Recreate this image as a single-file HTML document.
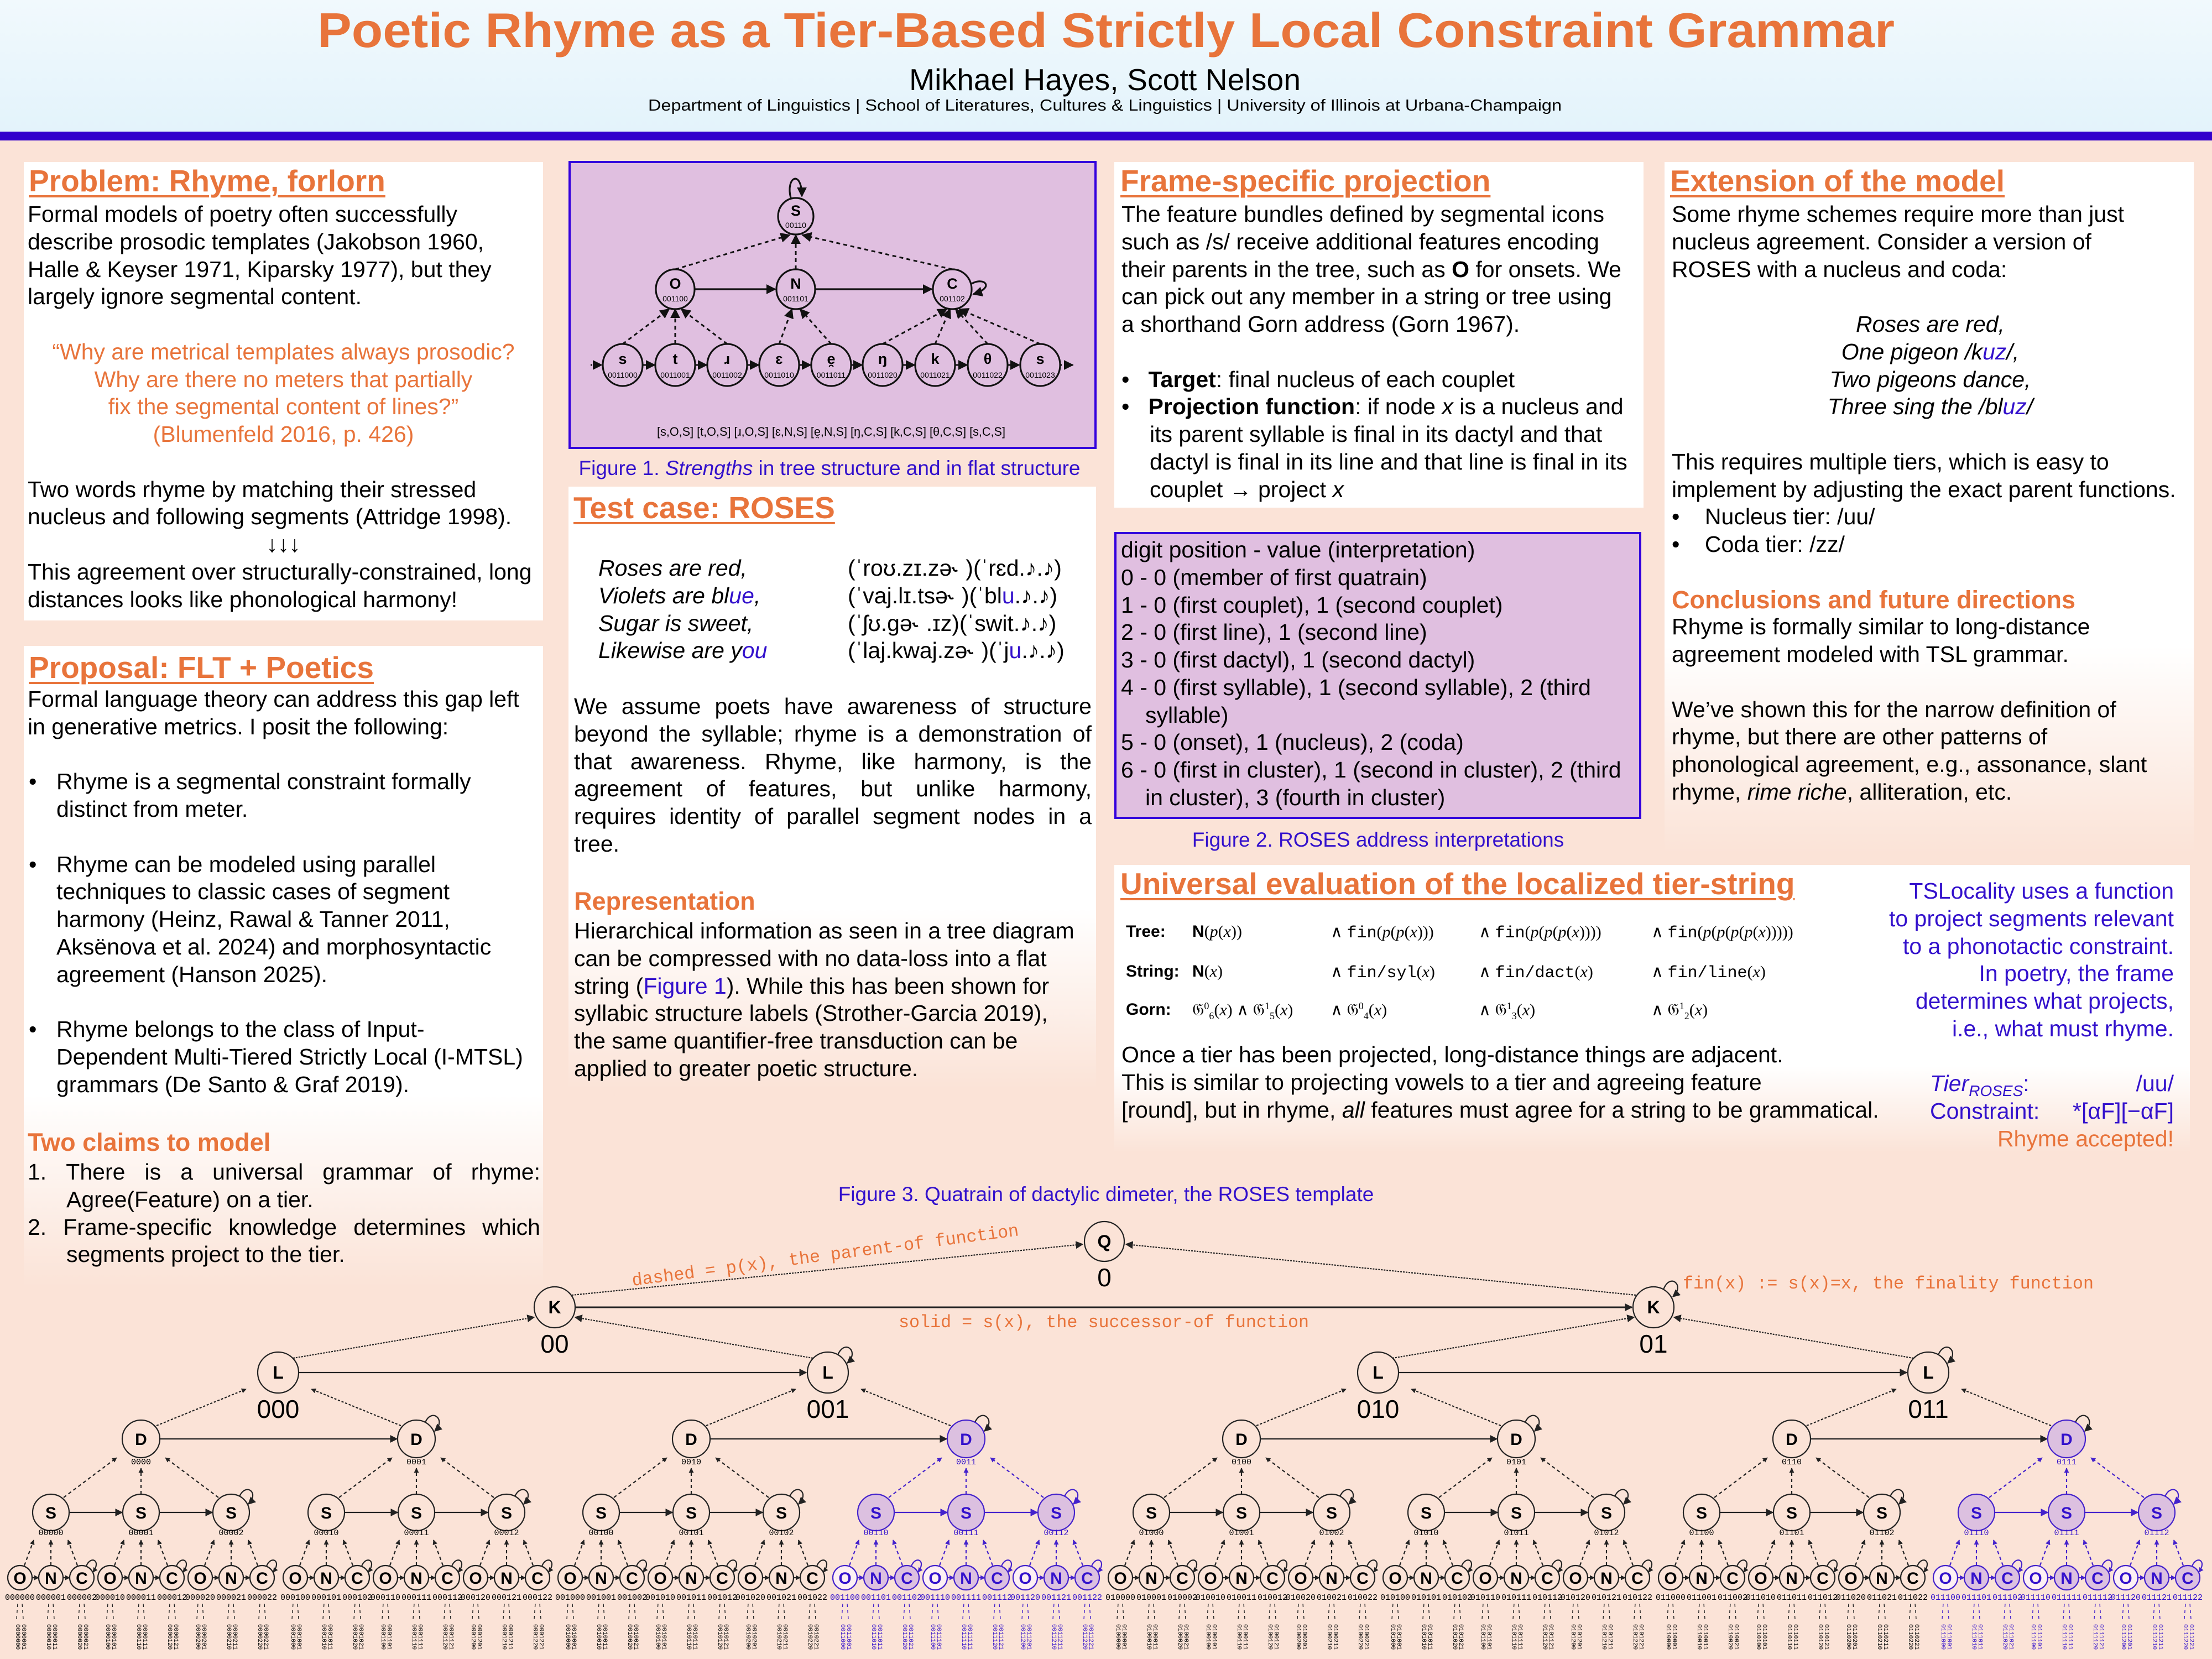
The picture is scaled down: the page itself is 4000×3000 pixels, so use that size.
<!DOCTYPE html>
<html><head><meta charset="utf-8">
<style>
*{margin:0;padding:0;box-sizing:border-box}
html,body{width:4000px;height:3000px;overflow:hidden}
body{position:relative;background:#fbe3d7;font-family:"Liberation Sans",sans-serif;color:#000}
.hdr{position:absolute;left:0;top:0;width:4000px;height:238px;background:linear-gradient(#f1f9fd,#e3f3fb)}
.bar{position:absolute;left:0;top:238px;width:4000px;height:16px;background:#3300cc}
.box{position:absolute;background:#fff}
.fade{background:linear-gradient(#fff 0%,#fff 70%,rgba(255,255,255,0) 100%)}
.pur{position:absolute;background:#e0bfe0;border:4px solid #3300dd}
.b{position:absolute;font-size:41px;line-height:49.75px;white-space:nowrap}
.b>div{height:49.75px;position:relative}
.j{text-align:justify;text-align-last:justify}
.pb{padding-left:52px}
.pb::before{content:"•";position:absolute;left:2px}
.h2{position:absolute;font-weight:bold;font-size:55px;color:#e8743b;text-decoration:underline;text-decoration-thickness:4px;text-underline-offset:7px;white-space:nowrap;line-height:60px}
.h3{font-weight:bold;font-size:45px;color:#e8743b}
.or{color:#e8743b}.bl{color:#3311cc}
.cap{position:absolute;font-size:37px;color:#3311cc;white-space:nowrap;transform:translateX(-50%)}
.f{position:absolute;font-size:30px;white-space:nowrap;font-family:"Liberation Serif",serif}
.f b{font-family:"Liberation Sans",sans-serif}
.f .m{font-family:"Liberation Mono",monospace}
.f i{font-style:italic}
svg text{font-family:"Liberation Sans",sans-serif}
</style></head><body>
<div class="hdr"></div><div class="bar"></div>

<!-- Column 1 -->
<div class="box" style="left:43px;top:293px;width:939px;height:829px"></div>
<div class="h2" style="left:52px;top:297px">Problem: Rhyme, forlorn</div>
<div class="b" style="left:50px;top:363px;width:925px">
<div>Formal models of poetry often successfully</div>
<div>describe prosodic templates (Jakobson 1960,</div>
<div>Halle &amp; Keyser 1971, Kiparsky 1977), but they</div>
<div>largely ignore segmental content.</div>
<div></div>
<div class="or" style="text-align:center">“Why are metrical templates always prosodic?</div>
<div class="or" style="text-align:center">Why are there no meters that partially</div>
<div class="or" style="text-align:center">fix the segmental content of lines?”</div>
<div class="or" style="text-align:center">(Blumenfeld 2016, p. 426)</div>
<div></div>
<div>Two words rhyme by matching their stressed</div>
<div>nucleus and following segments (Attridge 1998).</div>
<div style="text-align:center">↓↓↓</div>
<div>This agreement over structurally-constrained, long</div>
<div>distances looks like phonological harmony!</div>
</div>

<div class="box fade" style="left:43px;top:1168px;width:939px;height:1160px"></div>
<div class="h2" style="left:52px;top:1177px">Proposal: FLT + Poetics</div>
<div class="b" style="left:50px;top:1240px;width:925px">
<div>Formal language theory can address this gap left</div>
<div>in generative metrics. I posit the following:</div>
<div></div>
<div class="pb">Rhyme is a segmental constraint formally</div>
<div style="padding-left:52px">distinct from meter.</div>
<div></div>
<div class="pb">Rhyme can be modeled using parallel</div>
<div style="padding-left:52px">techniques to classic cases of segment</div>
<div style="padding-left:52px">harmony (Heinz, Rawal &amp; Tanner 2011,</div>
<div style="padding-left:52px">Aksënova et al. 2024) and morphosyntactic</div>
<div style="padding-left:52px">agreement (Hanson 2025).</div>
<div></div>
<div class="pb">Rhyme belongs to the class of Input-</div>
<div style="padding-left:52px">Dependent Multi-Tiered Strictly Local (I-MTSL)</div>
<div style="padding-left:52px">grammars (De Santo &amp; Graf 2019).</div>
</div>
<div class="b h3" style="left:50px;top:2040px;line-height:52px">Two claims to model</div>
<div class="b" style="left:50px;top:2095px;width:927px">
<div class="j">1.&nbsp;There is a universal grammar of rhyme:</div>
<div style="padding-left:70px">Agree(Feature) on a tier.</div>
<div class="j">2.&nbsp;Frame-specific knowledge determines which</div>
<div style="padding-left:70px">segments project to the tier.</div>
</div>

<!-- Column 2 -->
<div class="pur" style="left:1028px;top:291px;width:955px;height:521px"></div>
<div class="cap" style="left:1500px;top:826px">Figure 1. <i>Strengths</i> in tree structure and in flat structure</div>

<div class="box fade" style="left:1028px;top:880px;width:954px;height:1090px"></div>
<div class="h2" style="left:1037px;top:888px">Test case: ROSES</div>
<div class="b" style="left:1082px;top:1003px;font-style:italic">
<div>Roses are red,</div>
<div>Violets are bl<span class="bl">ue</span>,</div>
<div>Sugar is sweet,</div>
<div>Likewise are y<span class="bl">ou</span></div>
</div>
<div class="b" style="left:1533px;top:1003px">
<div>(ˈroʊ.zɪ.zə˞ )(ˈrɛd.♪.♪)</div>
<div>(ˈvaj.lɪ.tsə˞ )(ˈbl<span class="bl">u</span>.♪.♪)</div>
<div>(ˈʃʊ.gə˞ .ɪz)(ˈswit.♪.♪)</div>
<div>(ˈlaj.kwaj.zə˞ )(ˈj<span class="bl">u</span>.♪.♪)</div>
</div>
<div class="b" style="left:1038px;top:1253px;width:936px">
<div class="j">We assume poets have awareness of structure</div>
<div class="j">beyond the syllable; rhyme is a demonstration of</div>
<div class="j">that awareness. Rhyme, like harmony, is the</div>
<div class="j">agreement of features, but unlike harmony,</div>
<div class="j">requires identity of parallel segment nodes in a</div>
<div>tree.</div>
</div>
<div class="b h3" style="left:1038px;top:1604px;line-height:52px">Representation</div>
<div class="b" style="left:1038px;top:1659px">
<div>Hierarchical information as seen in a tree diagram</div>
<div>can be compressed with no data-loss into a flat</div>
<div>string (<span class="bl">Figure 1</span>). While this has been shown for</div>
<div>syllabic structure labels (Strother-Garcia 2019),</div>
<div>the same quantifier-free transduction can be</div>
<div>applied to greater poetic structure.</div>
</div>

<!-- Column 3 -->
<div class="box" style="left:2015px;top:293px;width:957px;height:625px"></div>
<div class="h2" style="left:2026px;top:297px">Frame-specific projection</div>
<div class="b" style="left:2028px;top:363px">
<div>The feature bundles defined by segmental icons</div>
<div>such as /s/ receive additional features encoding</div>
<div>their parents in the tree, such as <b>O</b> for onsets. We</div>
<div>can pick out any member in a string or tree using</div>
<div>a shorthand Gorn address (Gorn 1967).</div>
<div></div>
<div>•&nbsp;&nbsp;&nbsp;<b>Target</b>: final nucleus of each couplet</div>
<div>•&nbsp;&nbsp;&nbsp;<b>Projection function</b>: if node <i>x</i> is a nucleus and</div>
<div style="padding-left:51px">its parent syllable is final in its dactyl and that</div>
<div style="padding-left:51px">dactyl is final in its line and that line is final in its</div>
<div style="padding-left:51px">couplet → project <i>x</i></div>
</div>

<div class="pur" style="left:2015px;top:962px;width:953px;height:519px"></div>
<div class="b" style="left:2027px;top:970px">
<div>digit position - value (interpretation)</div>
<div>0 - 0 (member of first quatrain)</div>
<div>1 - 0 (first couplet), 1 (second couplet)</div>
<div>2 - 0 (first line), 1 (second line)</div>
<div>3 - 0 (first dactyl), 1 (second dactyl)</div>
<div>4 - 0 (first syllable), 1 (second syllable), 2 (third</div>
<div style="padding-left:44px">syllable)</div>
<div>5 - 0 (onset), 1 (nucleus), 2 (coda)</div>
<div>6 - 0 (first in cluster), 1 (second in cluster), 2 (third</div>
<div style="padding-left:44px">in cluster), 3 (fourth in cluster)</div>
</div>
<div class="cap" style="left:2492px;top:1498px">Figure 2. ROSES address interpretations</div>

<div class="box fade" style="left:2015px;top:1564px;width:1945px;height:520px"></div>
<div class="h2" style="left:2026px;top:1568px">Universal evaluation of the localized tier-string</div>
<div class="f" style="left:2036px;top:1668px"><b>Tree:</b></div>
<div class="f" style="left:2156px;top:1668px"><b>N</b>(<i>p</i>(<i>x</i>))</div>
<div class="f" style="left:2406px;top:1668px">∧ <span class="m">fin</span>(<i>p</i>(<i>p</i>(<i>x</i>)))</div>
<div class="f" style="left:2674px;top:1668px">∧ <span class="m">fin</span>(<i>p</i>(<i>p</i>(<i>p</i>(<i>x</i>))))</div>
<div class="f" style="left:2986px;top:1668px">∧ <span class="m">fin</span>(<i>p</i>(<i>p</i>(<i>p</i>(<i>p</i>(<i>x</i>)))))</div>
<div class="f" style="left:2036px;top:1740px"><b>String:</b></div>
<div class="f" style="left:2156px;top:1740px"><b>N</b>(<i>x</i>)</div>
<div class="f" style="left:2406px;top:1740px">∧ <span class="m">fin/syl</span>(<i>x</i>)</div>
<div class="f" style="left:2674px;top:1740px">∧ <span class="m">fin/dact</span>(<i>x</i>)</div>
<div class="f" style="left:2986px;top:1740px">∧ <span class="m">fin/line</span>(<i>x</i>)</div>
<div class="f" style="left:2036px;top:1809px"><b>Gorn:</b></div>
<div class="f" style="left:2156px;top:1809px">𝔊<sup style="font-size:18px">0</sup><sub style="font-size:18px">6</sub>(<i>x</i>) ∧ 𝔊<sup style="font-size:18px">1</sup><sub style="font-size:18px">5</sub>(<i>x</i>)</div>
<div class="f" style="left:2406px;top:1809px">∧ 𝔊<sup style="font-size:18px">0</sup><sub style="font-size:18px">4</sub>(<i>x</i>)</div>
<div class="f" style="left:2674px;top:1809px">∧ 𝔊<sup style="font-size:18px">1</sup><sub style="font-size:18px">3</sub>(<i>x</i>)</div>
<div class="f" style="left:2986px;top:1809px">∧ 𝔊<sup style="font-size:18px">1</sup><sub style="font-size:18px">2</sub>(<i>x</i>)</div>
<div class="b" style="left:2028px;top:1883px">
<div>Once a tier has been projected, long-distance things are adjacent.</div>
<div>This is similar to projecting vowels to a tier and agreeing feature</div>
<div>[round], but in rhyme, <i>all</i> features must agree for a string to be grammatical.</div>
</div>
<div class="b bl" style="right:69px;top:1587px;text-align:right">
<div>TSLocality uses a function</div>
<div>to project segments relevant</div>
<div>to a phonotactic constraint.</div>
<div>In poetry, the frame</div>
<div>determines what projects,</div>
<div>i.e., what must rhyme.</div>
<div></div>
<div style="width:441px;margin-left:auto;display:flex;justify-content:space-between"><span><i>Tier</i><sub style="font-size:28px"><i>ROSES</i></sub>:</span><span>/uu/</span></div>
<div style="width:441px;margin-left:auto;display:flex;justify-content:space-between"><span>Constraint:</span><span>*[αF][−αF]</span></div>
<div class="or">Rhyme accepted!</div>
</div>

<!-- Column 4 -->
<div class="box fade" style="left:3010px;top:293px;width:957px;height:1250px"></div>
<div class="h2" style="left:3020px;top:297px">Extension of the model</div>
<div class="b" style="left:3023px;top:363px;width:935px">
<div>Some rhyme schemes require more than just</div>
<div>nucleus agreement. Consider a version of</div>
<div>ROSES with a nucleus and coda:</div>
<div></div>
<div style="text-align:center;font-style:italic">Roses are red,</div>
<div style="text-align:center;font-style:italic">One pigeon /k<span class="bl">uz</span>/,</div>
<div style="text-align:center;font-style:italic">Two pigeons dance,</div>
<div style="text-align:center;font-style:italic">Three sing the /bl<span class="bl">uz</span>/</div>
<div></div>
<div>This requires multiple tiers, which is easy to</div>
<div>implement by adjusting the exact parent functions.</div>
<div>•&nbsp;&nbsp;&nbsp;&nbsp;Nucleus tier: /uu/</div>
<div>•&nbsp;&nbsp;&nbsp;&nbsp;Coda tier: /zz/</div>
<div></div>
<div class="h3">Conclusions and future directions</div>
<div>Rhyme is formally similar to long-distance</div>
<div>agreement modeled with TSL grammar.</div>
<div></div>
<div>We’ve shown this for the narrow definition of</div>
<div>rhyme, but there are other patterns of</div>
<div>phonological agreement, e.g., assonance, slant</div>
<div>rhyme, <i>rime riche</i>, alliteration, etc.</div>
</div>

<div class="cap" style="left:2000px;top:2139px">Figure 3. Quatrain of dactylic dimeter, the ROSES template</div>

<svg style="position:absolute;left:0;top:0" width="4000" height="3000" viewBox="0 0 4000 3000" xmlns="http://www.w3.org/2000/svg">
<defs>
<marker id="m" viewBox="0 0 10 10" refX="9" refY="5" markerWidth="14" markerHeight="14" markerUnits="userSpaceOnUse" orient="auto"><path d="M0,0L10,5L0,10z" fill="#222"/></marker>
<marker id="mb" viewBox="0 0 10 10" refX="9" refY="5" markerWidth="14" markerHeight="14" markerUnits="userSpaceOnUse" orient="auto"><path d="M0,0L10,5L0,10z" fill="#4422cc"/></marker>
<marker id="ms" viewBox="0 0 10 10" refX="9" refY="5" markerWidth="9" markerHeight="9" markerUnits="userSpaceOnUse" orient="auto"><path d="M0,0L10,5L0,10z" fill="#222"/></marker>
<marker id="msb" viewBox="0 0 10 10" refX="9" refY="5" markerWidth="9" markerHeight="9" markerUnits="userSpaceOnUse" orient="auto"><path d="M0,0L10,5L0,10z" fill="#4422cc"/></marker>
<marker id="mf" viewBox="0 0 10 10" refX="9" refY="5" markerWidth="18" markerHeight="18" markerUnits="userSpaceOnUse" orient="auto"><path d="M0,0L10,5L0,10z" fill="#111"/></marker>
<style>
.k{stroke:#222;stroke-width:2.2;fill:none}
.kb{stroke:#4422cc;stroke-width:2.2;fill:none}
.hk{stroke:#4422cc;stroke-width:2.2;fill:#dcc0e0}
.dd{stroke-dasharray:6 5}
.t1{font-weight:bold;font-size:30px;text-anchor:middle}
.t2{font-weight:bold;font-size:32px;text-anchor:middle}
.la{font-family:"Liberation Mono",monospace;font-size:15px;text-anchor:middle}
.lv{font-family:"Liberation Mono",monospace;font-size:11px;dominant-baseline:central}
.bg{font-size:46px;text-anchor:middle}
.hb text{fill:#3311cc}
.om{font-family:"Liberation Mono",monospace;font-size:32px;fill:#e8743b}
.f1{stroke:#111;stroke-width:3.2;fill:none}
.f1t{font-weight:bold;font-size:27px;text-anchor:middle}
.f1n{font-size:14px;text-anchor:middle}
</style>
<g id="sy">
<circle class="k" cx="0" cy="2735" r="33"/>
<circle class="k" cx="-56" cy="2853" r="22"/><circle class="k" cx="0" cy="2853" r="22"/><circle class="k" cx="56" cy="2853" r="22"/>
<line class="k" x1="-34" y1="2853" x2="-22" y2="2853" marker-end="url(#ms)"/>
<line class="k" x1="22" y1="2853" x2="34" y2="2853" marker-end="url(#ms)"/>
<path class="k" d="M64 2832C72 2812 92 2822 76 2843" marker-end="url(#ms)"/>
<line class="k dd" x1="-48" y1="2831" x2="-31" y2="2785" marker-end="url(#ms)"/>
<line class="k dd" x1="0" y1="2831" x2="0" y2="2785" marker-end="url(#ms)"/>
<line class="k dd" x1="48" y1="2831" x2="31" y2="2785" marker-end="url(#ms)"/>
<path class="k dd" d="M-62 2928L-60 2899M-50 2928L-52 2899M-6 2928L-4 2899M6 2928L4 2899M50 2928L52 2899M62 2928L60 2899" style="stroke-width:1.4"/>
</g>
<g id="syh">
<circle class="kb" cx="0" cy="2735" r="33" style="fill:#dcc0e0"/>
<circle class="kb" cx="-56" cy="2853" r="22" style="fill:#fdf0f4"/><circle class="hk" cx="0" cy="2853" r="22"/><circle class="hk" cx="56" cy="2853" r="22"/>
<line class="kb" x1="-34" y1="2853" x2="-22" y2="2853" marker-end="url(#msb)"/>
<line class="kb" x1="22" y1="2853" x2="34" y2="2853" marker-end="url(#msb)"/>
<path class="kb" d="M64 2832C72 2812 92 2822 76 2843" marker-end="url(#msb)"/>
<line class="kb dd" x1="-48" y1="2831" x2="-31" y2="2785" marker-end="url(#msb)"/>
<line class="kb dd" x1="0" y1="2831" x2="0" y2="2785" marker-end="url(#msb)"/>
<line class="kb dd" x1="48" y1="2831" x2="31" y2="2785" marker-end="url(#msb)"/>
<path class="kb dd" d="M-62 2928L-60 2899M-50 2928L-52 2899M-6 2928L-4 2899M6 2928L4 2899M50 2928L52 2899M62 2928L60 2899" style="stroke-width:1.4"/>
</g>
<g id="dg">
<circle class="k" cx="0" cy="2602" r="34"/>
<line class="k" x1="-130" y1="2735" x2="-34" y2="2735" marker-end="url(#m)"/>
<line class="k" x1="33" y1="2735" x2="129" y2="2735" marker-end="url(#m)"/>
<path class="k" d="M178 2706C190 2680 215 2700 194 2720" marker-end="url(#m)"/>
<line class="k dd" x1="-140" y1="2708" x2="-44" y2="2636" marker-end="url(#ms)"/>
<line class="k dd" x1="0" y1="2702" x2="0" y2="2655" marker-end="url(#ms)"/>
<line class="k dd" x1="140" y1="2708" x2="44" y2="2636" marker-end="url(#ms)"/>
</g>
<g id="dgh">
<circle class="hk" cx="0" cy="2602" r="34"/>
<line class="kb" x1="-130" y1="2735" x2="-34" y2="2735" marker-end="url(#mb)"/>
<line class="kb" x1="33" y1="2735" x2="129" y2="2735" marker-end="url(#mb)"/>
<path class="kb" d="M178 2706C190 2680 215 2700 194 2720" marker-end="url(#mb)"/>
<line class="kb dd" x1="-140" y1="2708" x2="-44" y2="2636" marker-end="url(#msb)"/>
<line class="kb dd" x1="0" y1="2702" x2="0" y2="2655" marker-end="url(#msb)"/>
<line class="kb dd" x1="140" y1="2708" x2="44" y2="2636" marker-end="url(#msb)"/>
</g>
<g id="lg">
<circle class="k" cx="0" cy="2482" r="37"/>
<line class="k" x1="-214" y1="2602" x2="215" y2="2602" marker-end="url(#m)"/>
<path class="k" d="M266 2572C278 2545 305 2568 283 2588" marker-end="url(#m)"/>
<line class="k dd" x1="-220" y1="2578" x2="-58" y2="2512" marker-end="url(#ms)" style="stroke-dasharray:4 3"/>
<line class="k dd" x1="222" y1="2578" x2="60" y2="2512" marker-end="url(#ms)" style="stroke-dasharray:4 3"/>
</g>
</defs>

<!-- Header texts -->
<text x="2000" y="85" text-anchor="middle" font-weight="bold" font-size="88" fill="#e8743b" textLength="2852" lengthAdjust="spacingAndGlyphs">Poetic Rhyme as a Tier-Based Strictly Local Constraint Grammar</text>
<text x="1998" y="163" text-anchor="middle" font-size="55" textLength="708" lengthAdjust="spacingAndGlyphs">Mikhael Hayes, Scott Nelson</text>
<text x="1998" y="200" text-anchor="middle" font-size="29" textLength="1652" lengthAdjust="spacingAndGlyphs">Department of Linguistics | School of Literatures, Cultures &amp; Linguistics | University of Illinois at Urbana-Champaign</text>

<!-- Figure 1 -->
<g class="f1">
<ellipse cx="1439" cy="391" rx="32" ry="33"/>
<ellipse cx="1221" cy="523" rx="35" ry="36"/><ellipse cx="1439" cy="523" rx="35" ry="36"/><ellipse cx="1722" cy="523" rx="35" ry="36"/>
<ellipse cx="1126" cy="660" rx="36" ry="38"/><ellipse cx="1221" cy="660" rx="36" ry="38"/><ellipse cx="1315" cy="660" rx="36" ry="38"/><ellipse cx="1409" cy="660" rx="36" ry="38"/><ellipse cx="1503" cy="660" rx="36" ry="38"/><ellipse cx="1596" cy="660" rx="36" ry="38"/><ellipse cx="1691" cy="660" rx="36" ry="38"/><ellipse cx="1786" cy="660" rx="36" ry="38"/><ellipse cx="1881" cy="660" rx="36" ry="38"/>
<path d="M1430 358C1420 320 1450 305 1450 355" marker-end="url(#mf)"/>
<path d="M1757 513C1780 500 1800 520 1760 532" marker-end="url(#mf)"/>
<line x1="1256" y1="523" x2="1402" y2="523" marker-end="url(#mf)"/>
<line x1="1474" y1="523" x2="1685" y2="523" marker-end="url(#mf)"/>
<g stroke-width="3" marker-end="url(#mf)">
<line x1="1068" y1="660" x2="1088" y2="660" stroke-dasharray="3 4"/>
<line x1="1162" y1="660" x2="1184" y2="660"/><line x1="1257" y1="660" x2="1278" y2="660"/><line x1="1351" y1="660" x2="1372" y2="660"/><line x1="1445" y1="660" x2="1466" y2="660"/><line x1="1539" y1="660" x2="1559" y2="660"/><line x1="1632" y1="660" x2="1654" y2="660"/><line x1="1727" y1="660" x2="1749" y2="660"/><line x1="1822" y1="660" x2="1843" y2="660"/>
<line x1="1917" y1="660" x2="1940" y2="660" stroke-dasharray="3 4"/>
</g>
<g stroke-dasharray="7 6" stroke-width="3" marker-end="url(#mf)">
<line x1="1221" y1="487" x2="1428" y2="425"/><line x1="1439" y1="487" x2="1439" y2="425"/><line x1="1722" y1="487" x2="1451" y2="425"/>
<line x1="1126" y1="622" x2="1210" y2="559"/><line x1="1221" y1="622" x2="1221" y2="559"/><line x1="1315" y1="622" x2="1232" y2="559"/>
<line x1="1409" y1="622" x2="1432" y2="559"/><line x1="1503" y1="622" x2="1447" y2="559"/>
<line x1="1596" y1="622" x2="1712" y2="559"/><line x1="1691" y1="622" x2="1718" y2="559"/><line x1="1786" y1="622" x2="1728" y2="559"/><line x1="1881" y1="622" x2="1735" y2="559"/>
</g>
</g>
<g>
<text class="f1t" x="1439" y="390">S</text><text class="f1n" x="1439" y="412">00110</text>
<text class="f1t" x="1221" y="522">O</text><text class="f1n" x="1221" y="545">001100</text>
<text class="f1t" x="1439" y="522">N</text><text class="f1n" x="1439" y="545">001101</text>
<text class="f1t" x="1722" y="522">C</text><text class="f1n" x="1722" y="545">001102</text>
<text class="f1t" x="1126" y="658">s</text><text class="f1n" x="1126" y="683">0011000</text>
<text class="f1t" x="1221" y="658">t</text><text class="f1n" x="1221" y="683">0011001</text>
<text class="f1t" x="1315" y="658">ɹ</text><text class="f1n" x="1315" y="683">0011002</text>
<text class="f1t" x="1409" y="658">ɛ</text><text class="f1n" x="1409" y="683">0011010</text>
<text class="f1t" x="1503" y="658">e̯</text><text class="f1n" x="1503" y="683">0011011</text>
<text class="f1t" x="1596" y="658">ŋ</text><text class="f1n" x="1596" y="683">0011020</text>
<text class="f1t" x="1691" y="658">k</text><text class="f1n" x="1691" y="683">0011021</text>
<text class="f1t" x="1786" y="658">θ</text><text class="f1n" x="1786" y="683">0011022</text>
<text class="f1t" x="1881" y="658">s</text><text class="f1n" x="1881" y="683">0011023</text>
<text x="1503" y="788" text-anchor="middle" font-size="22" textLength="630" lengthAdjust="spacingAndGlyphs">[s,O,S] [t,O,S] [ɹ,O,S] [ɛ,N,S] [e̯,N,S] [ŋ,C,S] [k,C,S] [θ,C,S] [s,C,S]</text>
</g>

<!-- Figure 3 top structure -->
<circle class="k" cx="1997" cy="2245" r="36"/>
<text class="t2" x="1997" y="2256">Q</text><text class="bg" x="1997" y="2326">0</text>
<circle class="k" cx="1003" cy="2364" r="37"/><text class="t2" x="1003" y="2375">K</text><text class="bg" x="1003" y="2446">00</text>
<circle class="k" cx="2990" cy="2364" r="37"/><text class="t2" x="2990" y="2375">K</text><text class="bg" x="2990" y="2446">01</text>
<line class="k" x1="1041" y1="2364" x2="2951" y2="2364" marker-end="url(#m)" style="stroke-width:3"/>
<path class="k" d="M3008 2332C3020 2300 3048 2325 3025 2345" marker-end="url(#m)"/>
<line class="k" x1="1034" y1="2342" x2="1958" y2="2250" marker-end="url(#m)" style="stroke-dasharray:3 2"/>
<line class="k" x1="2958" y1="2342" x2="2036" y2="2250" marker-end="url(#m)" style="stroke-dasharray:3 2"/>
<line class="k" x1="530" y1="2456" x2="966" y2="2382" marker-end="url(#m)" style="stroke-dasharray:3 2"/>
<line class="k" x1="1470" y1="2456" x2="1040" y2="2382" marker-end="url(#m)" style="stroke-dasharray:3 2"/>
<line class="k" x1="2518" y1="2456" x2="2955" y2="2382" marker-end="url(#m)" style="stroke-dasharray:3 2"/>
<line class="k" x1="3460" y1="2456" x2="3027" y2="2382" marker-end="url(#m)" style="stroke-dasharray:3 2"/>
<line class="k" x1="540" y1="2482" x2="1458" y2="2482" marker-end="url(#m)"/>
<line class="k" x1="2529" y1="2482" x2="3448" y2="2482" marker-end="url(#m)"/>
<path class="k" d="M1515 2450C1528 2420 1555 2445 1532 2465" marker-end="url(#m)"/>
<path class="k" d="M3505 2450C3518 2420 3545 2445 3522 2465" marker-end="url(#m)"/>
<text class="om" transform="translate(1144 2325) rotate(-7.4)" textLength="705" lengthAdjust="spacingAndGlyphs">dashed = p(x), the parent-of function</text>
<text class="om" x="1625" y="2400" textLength="742" lengthAdjust="spacingAndGlyphs">solid = s(x), the successor-of function</text>
<text class="om" x="3043" y="2330" textLength="743" lengthAdjust="spacingAndGlyphs">fin(x) := s(x)=x, the finality function</text>

<use href="#lg" x="503"/><text class="t2" x="503" y="2493">L</text><text class="bg" x="503" y="2564">000</text>
<use href="#lg" x="1497"/><text class="t2" x="1497" y="2493">L</text><text class="bg" x="1497" y="2564">001</text>
<use href="#lg" x="2492"/><text class="t2" x="2492" y="2493">L</text><text class="bg" x="2492" y="2564">010</text>
<use href="#lg" x="3487"/><text class="t2" x="3487" y="2493">L</text><text class="bg" x="3487" y="2564">011</text>

<use href="#dg" x="255"/><text class="t1" x="255" y="2613">D</text><text class="la" x="255" y="2648">0000</text>
<use href="#dg" x="753"/><text class="t1" x="753" y="2613">D</text><text class="la" x="753" y="2648">0001</text>
<use href="#dg" x="1250"/><text class="t1" x="1250" y="2613">D</text><text class="la" x="1250" y="2648">0010</text>
<use href="#dgh" x="1747"/><g class="hb"><text class="t1" x="1747" y="2613">D</text><text class="la" x="1747" y="2648">0011</text></g>
<use href="#dg" x="2245"/><text class="t1" x="2245" y="2613">D</text><text class="la" x="2245" y="2648">0100</text>
<use href="#dg" x="2742"/><text class="t1" x="2742" y="2613">D</text><text class="la" x="2742" y="2648">0101</text>
<use href="#dg" x="3240"/><text class="t1" x="3240" y="2613">D</text><text class="la" x="3240" y="2648">0110</text>
<use href="#dgh" x="3737"/><g class="hb"><text class="t1" x="3737" y="2613">D</text><text class="la" x="3737" y="2648">0111</text></g>

<!-- syllables -->
<g transform="translate(92 0)"><use href="#sy"/><text class="t1" y="2746">S</text><text class="la" y="2776">00000</text><text class="t1" x="-56" y="2864">O</text><text class="t1" y="2864">N</text><text class="t1" x="56" y="2864">C</text><text class="la" x="-56" y="2893">000000</text><text class="la" y="2893">000001</text><text class="la" x="56" y="2893">000002</text><text class="lv" transform="translate(-61 2937)rotate(90)">0000000</text><text class="lv" transform="translate(-50 2937)rotate(90)">0000001</text><text class="lv" transform="translate(-5 2937)rotate(90)">0000010</text><text class="lv" transform="translate(6 2937)rotate(90)">0000011</text><text class="lv" transform="translate(51 2937)rotate(90)">0000020</text><text class="lv" transform="translate(62 2937)rotate(90)">0000021</text></g>
<g transform="translate(255 0)"><use href="#sy"/><text class="t1" y="2746">S</text><text class="la" y="2776">00001</text><text class="t1" x="-56" y="2864">O</text><text class="t1" y="2864">N</text><text class="t1" x="56" y="2864">C</text><text class="la" x="-56" y="2893">000010</text><text class="la" y="2893">000011</text><text class="la" x="56" y="2893">000012</text><text class="lv" transform="translate(-61 2937)rotate(90)">0000100</text><text class="lv" transform="translate(-50 2937)rotate(90)">0000101</text><text class="lv" transform="translate(-5 2937)rotate(90)">0000110</text><text class="lv" transform="translate(6 2937)rotate(90)">0000111</text><text class="lv" transform="translate(51 2937)rotate(90)">0000120</text><text class="lv" transform="translate(62 2937)rotate(90)">0000121</text></g>
<g transform="translate(418 0)"><use href="#sy"/><text class="t1" y="2746">S</text><text class="la" y="2776">00002</text><text class="t1" x="-56" y="2864">O</text><text class="t1" y="2864">N</text><text class="t1" x="56" y="2864">C</text><text class="la" x="-56" y="2893">000020</text><text class="la" y="2893">000021</text><text class="la" x="56" y="2893">000022</text><text class="lv" transform="translate(-61 2937)rotate(90)">0000200</text><text class="lv" transform="translate(-50 2937)rotate(90)">0000201</text><text class="lv" transform="translate(-5 2937)rotate(90)">0000210</text><text class="lv" transform="translate(6 2937)rotate(90)">0000211</text><text class="lv" transform="translate(51 2937)rotate(90)">0000220</text><text class="lv" transform="translate(62 2937)rotate(90)">0000221</text></g>
<g transform="translate(590 0)"><use href="#sy"/><text class="t1" y="2746">S</text><text class="la" y="2776">00010</text><text class="t1" x="-56" y="2864">O</text><text class="t1" y="2864">N</text><text class="t1" x="56" y="2864">C</text><text class="la" x="-56" y="2893">000100</text><text class="la" y="2893">000101</text><text class="la" x="56" y="2893">000102</text><text class="lv" transform="translate(-61 2937)rotate(90)">0001000</text><text class="lv" transform="translate(-50 2937)rotate(90)">0001001</text><text class="lv" transform="translate(-5 2937)rotate(90)">0001010</text><text class="lv" transform="translate(6 2937)rotate(90)">0001011</text><text class="lv" transform="translate(51 2937)rotate(90)">0001020</text><text class="lv" transform="translate(62 2937)rotate(90)">0001021</text></g>
<g transform="translate(753 0)"><use href="#sy"/><text class="t1" y="2746">S</text><text class="la" y="2776">00011</text><text class="t1" x="-56" y="2864">O</text><text class="t1" y="2864">N</text><text class="t1" x="56" y="2864">C</text><text class="la" x="-56" y="2893">000110</text><text class="la" y="2893">000111</text><text class="la" x="56" y="2893">000112</text><text class="lv" transform="translate(-61 2937)rotate(90)">0001100</text><text class="lv" transform="translate(-50 2937)rotate(90)">0001101</text><text class="lv" transform="translate(-5 2937)rotate(90)">0001110</text><text class="lv" transform="translate(6 2937)rotate(90)">0001111</text><text class="lv" transform="translate(51 2937)rotate(90)">0001120</text><text class="lv" transform="translate(62 2937)rotate(90)">0001121</text></g>
<g transform="translate(916 0)"><use href="#sy"/><text class="t1" y="2746">S</text><text class="la" y="2776">00012</text><text class="t1" x="-56" y="2864">O</text><text class="t1" y="2864">N</text><text class="t1" x="56" y="2864">C</text><text class="la" x="-56" y="2893">000120</text><text class="la" y="2893">000121</text><text class="la" x="56" y="2893">000122</text><text class="lv" transform="translate(-61 2937)rotate(90)">0001200</text><text class="lv" transform="translate(-50 2937)rotate(90)">0001201</text><text class="lv" transform="translate(-5 2937)rotate(90)">0001210</text><text class="lv" transform="translate(6 2937)rotate(90)">0001211</text><text class="lv" transform="translate(51 2937)rotate(90)">0001220</text><text class="lv" transform="translate(62 2937)rotate(90)">0001221</text></g>
<g transform="translate(1087 0)"><use href="#sy"/><text class="t1" y="2746">S</text><text class="la" y="2776">00100</text><text class="t1" x="-56" y="2864">O</text><text class="t1" y="2864">N</text><text class="t1" x="56" y="2864">C</text><text class="la" x="-56" y="2893">001000</text><text class="la" y="2893">001001</text><text class="la" x="56" y="2893">001002</text><text class="lv" transform="translate(-61 2937)rotate(90)">0010000</text><text class="lv" transform="translate(-50 2937)rotate(90)">0010001</text><text class="lv" transform="translate(-5 2937)rotate(90)">0010010</text><text class="lv" transform="translate(6 2937)rotate(90)">0010011</text><text class="lv" transform="translate(51 2937)rotate(90)">0010020</text><text class="lv" transform="translate(62 2937)rotate(90)">0010021</text></g>
<g transform="translate(1250 0)"><use href="#sy"/><text class="t1" y="2746">S</text><text class="la" y="2776">00101</text><text class="t1" x="-56" y="2864">O</text><text class="t1" y="2864">N</text><text class="t1" x="56" y="2864">C</text><text class="la" x="-56" y="2893">001010</text><text class="la" y="2893">001011</text><text class="la" x="56" y="2893">001012</text><text class="lv" transform="translate(-61 2937)rotate(90)">0010100</text><text class="lv" transform="translate(-50 2937)rotate(90)">0010101</text><text class="lv" transform="translate(-5 2937)rotate(90)">0010110</text><text class="lv" transform="translate(6 2937)rotate(90)">0010111</text><text class="lv" transform="translate(51 2937)rotate(90)">0010120</text><text class="lv" transform="translate(62 2937)rotate(90)">0010121</text></g>
<g transform="translate(1413 0)"><use href="#sy"/><text class="t1" y="2746">S</text><text class="la" y="2776">00102</text><text class="t1" x="-56" y="2864">O</text><text class="t1" y="2864">N</text><text class="t1" x="56" y="2864">C</text><text class="la" x="-56" y="2893">001020</text><text class="la" y="2893">001021</text><text class="la" x="56" y="2893">001022</text><text class="lv" transform="translate(-61 2937)rotate(90)">0010200</text><text class="lv" transform="translate(-50 2937)rotate(90)">0010201</text><text class="lv" transform="translate(-5 2937)rotate(90)">0010210</text><text class="lv" transform="translate(6 2937)rotate(90)">0010211</text><text class="lv" transform="translate(51 2937)rotate(90)">0010220</text><text class="lv" transform="translate(62 2937)rotate(90)">0010221</text></g>
<g class="hb" transform="translate(1584 0)"><use href="#syh"/><text class="t1" y="2746">S</text><text class="la" y="2776">00110</text><text class="t1" x="-56" y="2864">O</text><text class="t1" y="2864">N</text><text class="t1" x="56" y="2864">C</text><text class="la" x="-56" y="2893">001100</text><text class="la" y="2893">001101</text><text class="la" x="56" y="2893">001102</text><text class="lv" transform="translate(-61 2937)rotate(90)">0011000</text><text class="lv" transform="translate(-50 2937)rotate(90)">0011001</text><text class="lv" transform="translate(-5 2937)rotate(90)">0011010</text><text class="lv" transform="translate(6 2937)rotate(90)">0011011</text><text class="lv" transform="translate(51 2937)rotate(90)">0011020</text><text class="lv" transform="translate(62 2937)rotate(90)">0011021</text></g>
<g class="hb" transform="translate(1747 0)"><use href="#syh"/><text class="t1" y="2746">S</text><text class="la" y="2776">00111</text><text class="t1" x="-56" y="2864">O</text><text class="t1" y="2864">N</text><text class="t1" x="56" y="2864">C</text><text class="la" x="-56" y="2893">001110</text><text class="la" y="2893">001111</text><text class="la" x="56" y="2893">001112</text><text class="lv" transform="translate(-61 2937)rotate(90)">0011100</text><text class="lv" transform="translate(-50 2937)rotate(90)">0011101</text><text class="lv" transform="translate(-5 2937)rotate(90)">0011110</text><text class="lv" transform="translate(6 2937)rotate(90)">0011111</text><text class="lv" transform="translate(51 2937)rotate(90)">0011120</text><text class="lv" transform="translate(62 2937)rotate(90)">0011121</text></g>
<g class="hb" transform="translate(1910 0)"><use href="#syh"/><text class="t1" y="2746">S</text><text class="la" y="2776">00112</text><text class="t1" x="-56" y="2864">O</text><text class="t1" y="2864">N</text><text class="t1" x="56" y="2864">C</text><text class="la" x="-56" y="2893">001120</text><text class="la" y="2893">001121</text><text class="la" x="56" y="2893">001122</text><text class="lv" transform="translate(-61 2937)rotate(90)">0011200</text><text class="lv" transform="translate(-50 2937)rotate(90)">0011201</text><text class="lv" transform="translate(-5 2937)rotate(90)">0011210</text><text class="lv" transform="translate(6 2937)rotate(90)">0011211</text><text class="lv" transform="translate(51 2937)rotate(90)">0011220</text><text class="lv" transform="translate(62 2937)rotate(90)">0011221</text></g>
<g transform="translate(2082 0)"><use href="#sy"/><text class="t1" y="2746">S</text><text class="la" y="2776">01000</text><text class="t1" x="-56" y="2864">O</text><text class="t1" y="2864">N</text><text class="t1" x="56" y="2864">C</text><text class="la" x="-56" y="2893">010000</text><text class="la" y="2893">010001</text><text class="la" x="56" y="2893">010002</text><text class="lv" transform="translate(-61 2937)rotate(90)">0100000</text><text class="lv" transform="translate(-50 2937)rotate(90)">0100001</text><text class="lv" transform="translate(-5 2937)rotate(90)">0100010</text><text class="lv" transform="translate(6 2937)rotate(90)">0100011</text><text class="lv" transform="translate(51 2937)rotate(90)">0100020</text><text class="lv" transform="translate(62 2937)rotate(90)">0100021</text></g>
<g transform="translate(2245 0)"><use href="#sy"/><text class="t1" y="2746">S</text><text class="la" y="2776">01001</text><text class="t1" x="-56" y="2864">O</text><text class="t1" y="2864">N</text><text class="t1" x="56" y="2864">C</text><text class="la" x="-56" y="2893">010010</text><text class="la" y="2893">010011</text><text class="la" x="56" y="2893">010012</text><text class="lv" transform="translate(-61 2937)rotate(90)">0100100</text><text class="lv" transform="translate(-50 2937)rotate(90)">0100101</text><text class="lv" transform="translate(-5 2937)rotate(90)">0100110</text><text class="lv" transform="translate(6 2937)rotate(90)">0100111</text><text class="lv" transform="translate(51 2937)rotate(90)">0100120</text><text class="lv" transform="translate(62 2937)rotate(90)">0100121</text></g>
<g transform="translate(2408 0)"><use href="#sy"/><text class="t1" y="2746">S</text><text class="la" y="2776">01002</text><text class="t1" x="-56" y="2864">O</text><text class="t1" y="2864">N</text><text class="t1" x="56" y="2864">C</text><text class="la" x="-56" y="2893">010020</text><text class="la" y="2893">010021</text><text class="la" x="56" y="2893">010022</text><text class="lv" transform="translate(-61 2937)rotate(90)">0100200</text><text class="lv" transform="translate(-50 2937)rotate(90)">0100201</text><text class="lv" transform="translate(-5 2937)rotate(90)">0100210</text><text class="lv" transform="translate(6 2937)rotate(90)">0100211</text><text class="lv" transform="translate(51 2937)rotate(90)">0100220</text><text class="lv" transform="translate(62 2937)rotate(90)">0100221</text></g>
<g transform="translate(2579 0)"><use href="#sy"/><text class="t1" y="2746">S</text><text class="la" y="2776">01010</text><text class="t1" x="-56" y="2864">O</text><text class="t1" y="2864">N</text><text class="t1" x="56" y="2864">C</text><text class="la" x="-56" y="2893">010100</text><text class="la" y="2893">010101</text><text class="la" x="56" y="2893">010102</text><text class="lv" transform="translate(-61 2937)rotate(90)">0101000</text><text class="lv" transform="translate(-50 2937)rotate(90)">0101001</text><text class="lv" transform="translate(-5 2937)rotate(90)">0101010</text><text class="lv" transform="translate(6 2937)rotate(90)">0101011</text><text class="lv" transform="translate(51 2937)rotate(90)">0101020</text><text class="lv" transform="translate(62 2937)rotate(90)">0101021</text></g>
<g transform="translate(2742 0)"><use href="#sy"/><text class="t1" y="2746">S</text><text class="la" y="2776">01011</text><text class="t1" x="-56" y="2864">O</text><text class="t1" y="2864">N</text><text class="t1" x="56" y="2864">C</text><text class="la" x="-56" y="2893">010110</text><text class="la" y="2893">010111</text><text class="la" x="56" y="2893">010112</text><text class="lv" transform="translate(-61 2937)rotate(90)">0101100</text><text class="lv" transform="translate(-50 2937)rotate(90)">0101101</text><text class="lv" transform="translate(-5 2937)rotate(90)">0101110</text><text class="lv" transform="translate(6 2937)rotate(90)">0101111</text><text class="lv" transform="translate(51 2937)rotate(90)">0101120</text><text class="lv" transform="translate(62 2937)rotate(90)">0101121</text></g>
<g transform="translate(2905 0)"><use href="#sy"/><text class="t1" y="2746">S</text><text class="la" y="2776">01012</text><text class="t1" x="-56" y="2864">O</text><text class="t1" y="2864">N</text><text class="t1" x="56" y="2864">C</text><text class="la" x="-56" y="2893">010120</text><text class="la" y="2893">010121</text><text class="la" x="56" y="2893">010122</text><text class="lv" transform="translate(-61 2937)rotate(90)">0101200</text><text class="lv" transform="translate(-50 2937)rotate(90)">0101201</text><text class="lv" transform="translate(-5 2937)rotate(90)">0101210</text><text class="lv" transform="translate(6 2937)rotate(90)">0101211</text><text class="lv" transform="translate(51 2937)rotate(90)">0101220</text><text class="lv" transform="translate(62 2937)rotate(90)">0101221</text></g>
<g transform="translate(3077 0)"><use href="#sy"/><text class="t1" y="2746">S</text><text class="la" y="2776">01100</text><text class="t1" x="-56" y="2864">O</text><text class="t1" y="2864">N</text><text class="t1" x="56" y="2864">C</text><text class="la" x="-56" y="2893">011000</text><text class="la" y="2893">011001</text><text class="la" x="56" y="2893">011002</text><text class="lv" transform="translate(-61 2937)rotate(90)">0110000</text><text class="lv" transform="translate(-50 2937)rotate(90)">0110001</text><text class="lv" transform="translate(-5 2937)rotate(90)">0110010</text><text class="lv" transform="translate(6 2937)rotate(90)">0110011</text><text class="lv" transform="translate(51 2937)rotate(90)">0110020</text><text class="lv" transform="translate(62 2937)rotate(90)">0110021</text></g>
<g transform="translate(3240 0)"><use href="#sy"/><text class="t1" y="2746">S</text><text class="la" y="2776">01101</text><text class="t1" x="-56" y="2864">O</text><text class="t1" y="2864">N</text><text class="t1" x="56" y="2864">C</text><text class="la" x="-56" y="2893">011010</text><text class="la" y="2893">011011</text><text class="la" x="56" y="2893">011012</text><text class="lv" transform="translate(-61 2937)rotate(90)">0110100</text><text class="lv" transform="translate(-50 2937)rotate(90)">0110101</text><text class="lv" transform="translate(-5 2937)rotate(90)">0110110</text><text class="lv" transform="translate(6 2937)rotate(90)">0110111</text><text class="lv" transform="translate(51 2937)rotate(90)">0110120</text><text class="lv" transform="translate(62 2937)rotate(90)">0110121</text></g>
<g transform="translate(3403 0)"><use href="#sy"/><text class="t1" y="2746">S</text><text class="la" y="2776">01102</text><text class="t1" x="-56" y="2864">O</text><text class="t1" y="2864">N</text><text class="t1" x="56" y="2864">C</text><text class="la" x="-56" y="2893">011020</text><text class="la" y="2893">011021</text><text class="la" x="56" y="2893">011022</text><text class="lv" transform="translate(-61 2937)rotate(90)">0110200</text><text class="lv" transform="translate(-50 2937)rotate(90)">0110201</text><text class="lv" transform="translate(-5 2937)rotate(90)">0110210</text><text class="lv" transform="translate(6 2937)rotate(90)">0110211</text><text class="lv" transform="translate(51 2937)rotate(90)">0110220</text><text class="lv" transform="translate(62 2937)rotate(90)">0110221</text></g>
<g class="hb" transform="translate(3574 0)"><use href="#syh"/><text class="t1" y="2746">S</text><text class="la" y="2776">01110</text><text class="t1" x="-56" y="2864">O</text><text class="t1" y="2864">N</text><text class="t1" x="56" y="2864">C</text><text class="la" x="-56" y="2893">011100</text><text class="la" y="2893">011101</text><text class="la" x="56" y="2893">011102</text><text class="lv" transform="translate(-61 2937)rotate(90)">0111000</text><text class="lv" transform="translate(-50 2937)rotate(90)">0111001</text><text class="lv" transform="translate(-5 2937)rotate(90)">0111010</text><text class="lv" transform="translate(6 2937)rotate(90)">0111011</text><text class="lv" transform="translate(51 2937)rotate(90)">0111020</text><text class="lv" transform="translate(62 2937)rotate(90)">0111021</text></g>
<g class="hb" transform="translate(3737 0)"><use href="#syh"/><text class="t1" y="2746">S</text><text class="la" y="2776">01111</text><text class="t1" x="-56" y="2864">O</text><text class="t1" y="2864">N</text><text class="t1" x="56" y="2864">C</text><text class="la" x="-56" y="2893">011110</text><text class="la" y="2893">011111</text><text class="la" x="56" y="2893">011112</text><text class="lv" transform="translate(-61 2937)rotate(90)">0111100</text><text class="lv" transform="translate(-50 2937)rotate(90)">0111101</text><text class="lv" transform="translate(-5 2937)rotate(90)">0111110</text><text class="lv" transform="translate(6 2937)rotate(90)">0111111</text><text class="lv" transform="translate(51 2937)rotate(90)">0111120</text><text class="lv" transform="translate(62 2937)rotate(90)">0111121</text></g>
<g class="hb" transform="translate(3900 0)"><use href="#syh"/><text class="t1" y="2746">S</text><text class="la" y="2776">01112</text><text class="t1" x="-56" y="2864">O</text><text class="t1" y="2864">N</text><text class="t1" x="56" y="2864">C</text><text class="la" x="-56" y="2893">011120</text><text class="la" y="2893">011121</text><text class="la" x="56" y="2893">011122</text><text class="lv" transform="translate(-61 2937)rotate(90)">0111200</text><text class="lv" transform="translate(-50 2937)rotate(90)">0111201</text><text class="lv" transform="translate(-5 2937)rotate(90)">0111210</text><text class="lv" transform="translate(6 2937)rotate(90)">0111211</text><text class="lv" transform="translate(51 2937)rotate(90)">0111220</text><text class="lv" transform="translate(62 2937)rotate(90)">0111221</text></g>
</svg>
</body></html>
